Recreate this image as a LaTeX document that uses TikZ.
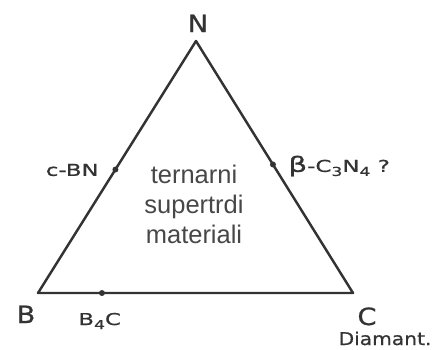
\documentclass[tikz,border=0pt]{standalone}
\usepackage{fontspec}
\setmainfont{Liberation Sans}
\newfontfamily\widefont[FakeStretch=1.4,FakeBold=0.8]{DejaVu Sans}
\newfontfamily\medfont[FakeStretch=1.15,FakeBold=0.8]{DejaVu Sans}
\usepackage{xcolor}
\usepackage{tikz}
\usetikzlibrary{calc,positioning}
\definecolor{ink}{HTML}{333333}
\newcommand{\lowsub}[1]{\raisebox{-0.45ex}{\fontsize{7}{7}\selectfont #1}}

\begin{document}
\begin{tikzpicture}[x=0.02cm,y=-0.02cm,
  corner/.style={font=\medfont\fontsize{13.5}{14}\selectfont,text=ink,inner sep=0pt,anchor=base},
  phase/.style={font=\widefont\fontsize{9.3}{10}\selectfont,text=ink,inner sep=0pt},
  edge/.style={draw=ink,line width=1.4pt,line join=round},
  dot/.style={fill=ink}]
  \useasboundingbox (0,0) rectangle (438,349);
  % corners of the triangle
  \coordinate (n) at (196,41);
  \coordinate (b) at (38,293);
  \coordinate (c) at (353,293);
  \draw[edge] (n) -- (b) -- (c) -- cycle;
  % phases on the edges
  \coordinate (cbn) at ($(b)!0.49!(n)$);
  \coordinate (cn) at ($(n)!0.49!(c)$);
  \coordinate (bc) at ($(b)!0.203!(c)$);
  \foreach \p in {cbn,cn,bc} \fill[dot] (\p) circle[radius=1.7pt];
  \node[corner] (lN) at (198,32) {N};
  \node[corner] (lB) at (26,323) {B};
  \node[corner] (lC) at (367,325) {C};
  \node[font=\medfont\fontsize{10}{11}\selectfont,text=ink,inner sep=0pt,anchor=base] (diam) at (385,345) {Diamant.};
  \node[phase,anchor=east] (lcbn) at (99,170) {c-BN};
  \node[phase,anchor=west] (lcn) at (288,166) {{\fontsize{12}{13}\selectfont β}-C\lowsub{3}N\lowsub{4} ?};
  \node[phase,anchor=base west] (lbc) at (78,325) {B\lowsub{4}C};
  \node[font=\fontsize{14.5}{17}\selectfont,text=ink!90,align=center,anchor=north] (mat) at (194,159)
    {ternarni\\supertrdi\\materiali};
\end{tikzpicture}
\end{document}
